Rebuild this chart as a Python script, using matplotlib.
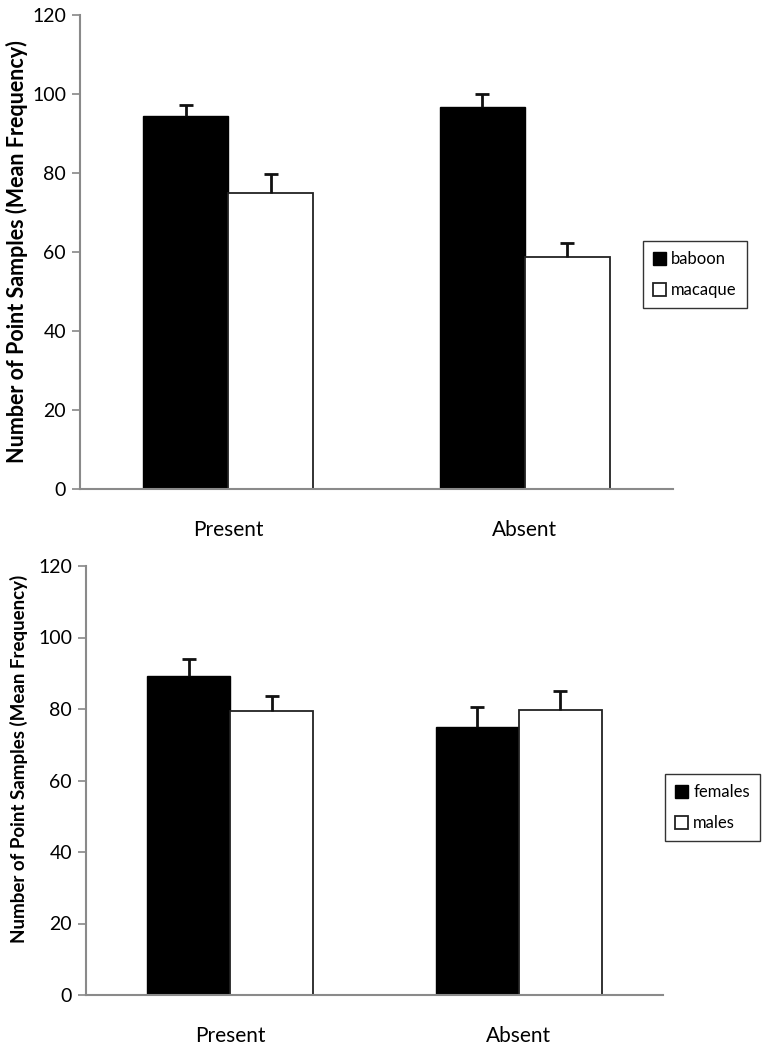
import numpy as np
import matplotlib
matplotlib.use("Agg")
import matplotlib.pyplot as plt

plt.rcParams['font.family'] = ['Lato', 'DejaVu Sans']

# -----------------------
# Data
# -----------------------
CATEGORIES = ["Present", "Absent"]

BABOON = [94.5, 96.8]
BABOON_ERR = [2.8, 3.3]
MACAQUE = [75.0, 58.8]
MACAQUE_ERR = [4.7, 3.6]

FEMALES = [89.2, 75.0]
FEMALES_ERR = [4.8, 5.6]
MALES = [79.5, 79.7]
MALES_ERR = [4.2, 5.4]

YTICKS = [0, 20, 40, 60, 80, 100, 120]
YLABEL = "Number of Point Samples (Mean Frequency)"

W, H = 766, 1050
fig = plt.figure(figsize=(W / 100, H / 100), dpi=100)


def panel(rect, s1, e1, s2, e2, labels, legend_xy, bw, fs_tick, fs_cat, fs_leg):
    ax = fig.add_axes(rect)
    x = np.arange(len(CATEGORIES))
    ax.bar(x - bw / 2, s1, bw, color="black", edgecolor="black", lw=1.0, label=labels[0], zorder=2)
    ax.bar(x + bw / 2, s2, bw, color="white", edgecolor="#222222", lw=1.3, label=labels[1], zorder=2)
    # one-sided (upper) error bars: hide the lower caps
    for xs, v, e in ((x - bw / 2, s1, e1), (x + bw / 2, s2, e2)):
        _, caps, _ = ax.errorbar(xs, v, yerr=[np.zeros(len(e)), e], fmt="none", ecolor="#111111",
                                 elinewidth=2, capsize=5, capthick=2, zorder=3)
        caps[0].set_visible(False)
    ax.set_xlim(-0.5, len(CATEGORIES) - 0.5)
    ax.set_ylim(0, 120)
    ax.set_yticks(YTICKS)
    ax.set_xticks(x)
    ax.set_xticklabels(CATEGORIES, fontsize=fs_cat)
    ax.tick_params(axis="x", length=0, pad=22)
    ax.tick_params(axis="y", length=6, color="#888888", width=1.2, labelsize=fs_tick, pad=4)
    for s in ("top", "right"):
        ax.spines[s].set_visible(False)
    for s in ("left", "bottom"):
        ax.spines[s].set_color("#8a8a8a")
        ax.spines[s].set_linewidth(1.5)
    leg = ax.legend(loc="upper left", bbox_to_anchor=legend_xy, bbox_transform=fig.transFigure,
                    fontsize=fs_leg, frameon=True, fancybox=False, edgecolor="black",
                    handlelength=0.8, handleheight=0.8, handletextpad=0.3,
                    labelspacing=0.9, borderpad=0.6, borderaxespad=0)
    leg.get_frame().set_linewidth(1.0)
    return ax


# top panel: axes 80..673 px, 15..489 px
ax1 = panel([80 / W, 1 - 489 / H, 593 / W, 474 / H], BABOON, BABOON_ERR, MACAQUE, MACAQUE_ERR,
            ["baboon", "macaque"], (643 / W, 1 - 241 / H), 0.287, 14, 15, 12)
fig.text(17 / W, 1 - 252 / H, YLABEL, rotation=90, ha="center", va="center",
         fontsize=15.5, fontweight="bold")

# bottom panel: axes 86..663 px, 566..995 px
ax2 = panel([86 / W, 1 - 995 / H, 577 / W, 429 / H], FEMALES, FEMALES_ERR, MALES, MALES_ERR,
            ["females", "males"], (665 / W, 1 - 774 / H), 0.288, 14, 15, 12)
fig.text(19 / W, 1 - 759 / H, YLABEL, rotation=90, ha="center", va="center",
         fontsize=13.5, fontweight="bold")

fig.savefig("out.png", dpi=100)
